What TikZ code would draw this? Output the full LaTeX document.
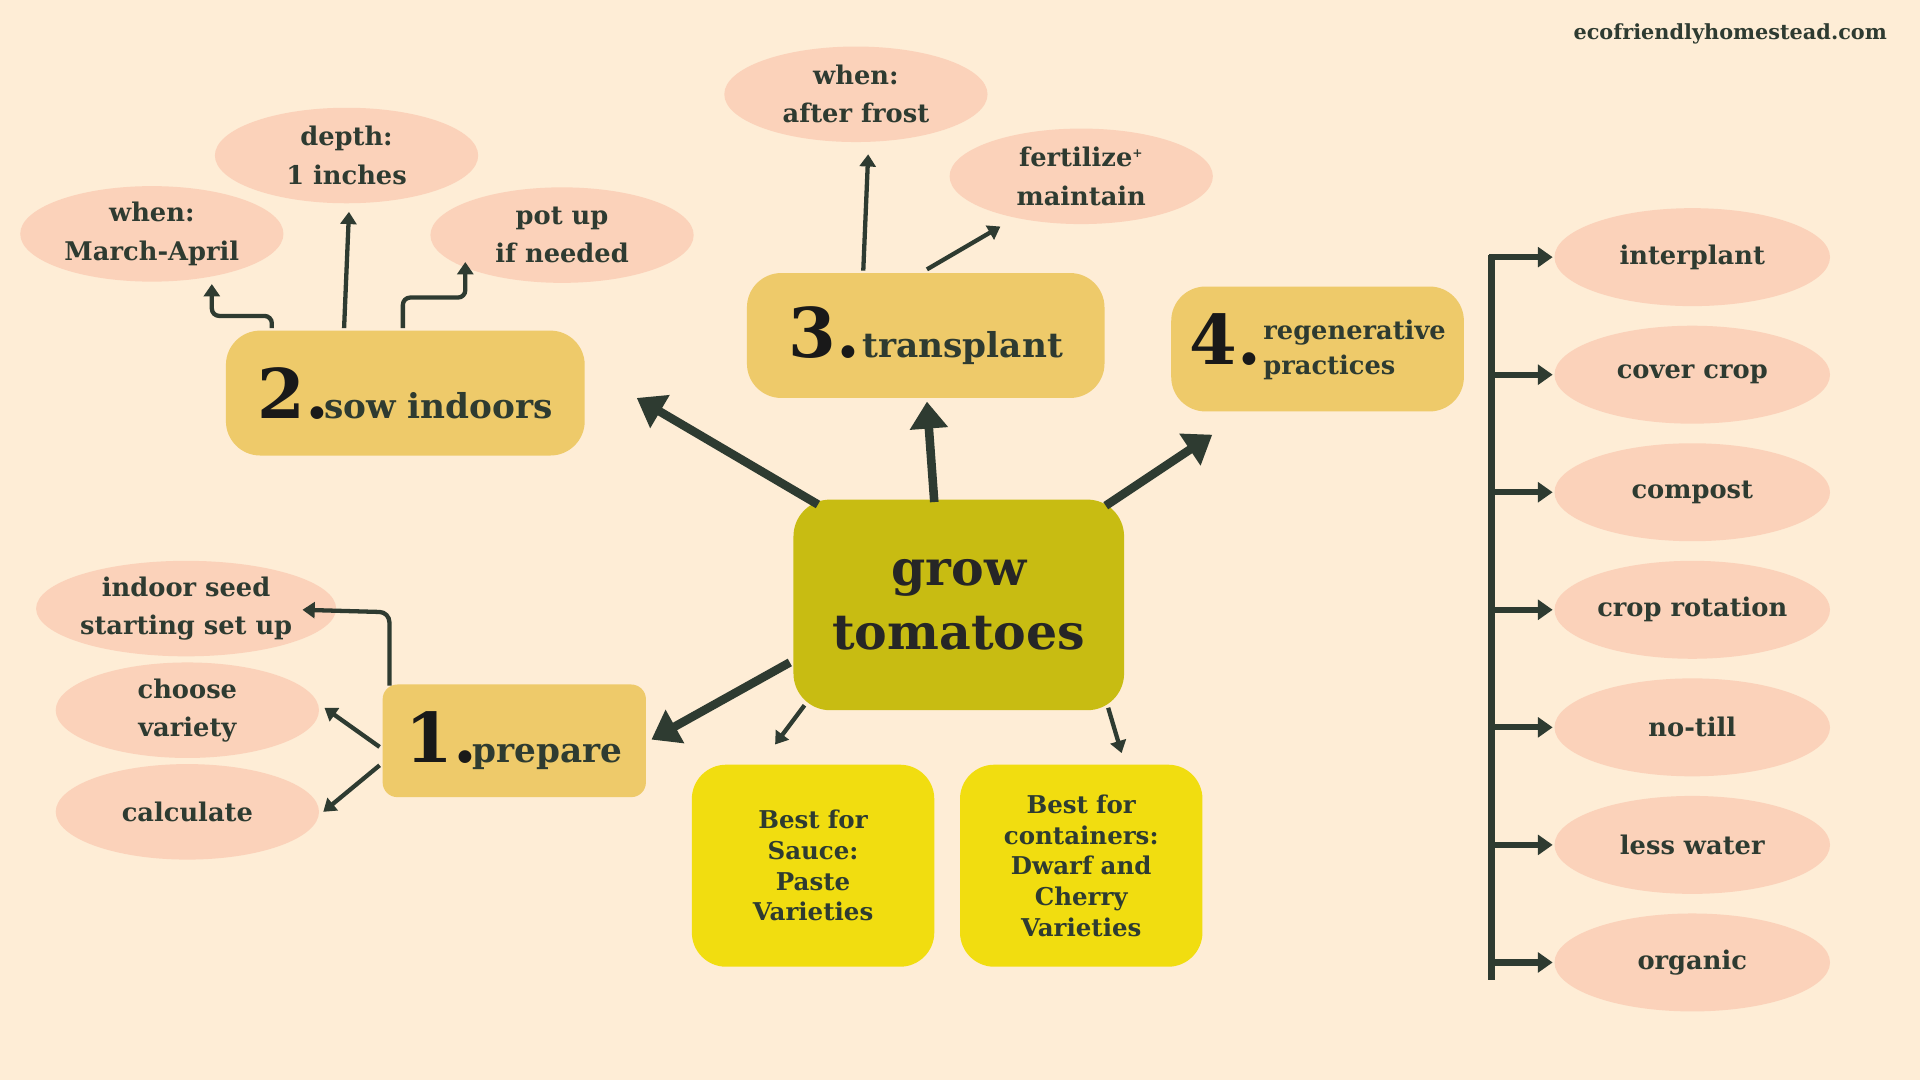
\documentclass[tikz,border=0pt]{standalone}
\usepackage{fontspec}
\setmainfont{DejaVu Serif}
\usetikzlibrary{shapes.geometric,arrows.meta}
\definecolor{bg}{HTML}{FEEDD6}
\definecolor{peach}{HTML}{FBD2BA}
\definecolor{stepc}{HTML}{EECA6A}
\definecolor{centc}{HTML}{C8BC12}
\definecolor{yel}{HTML}{F1DD10}
\definecolor{ink}{HTML}{2E3B31}
\newcommand{\fs}[1]{\fontsize{#1}{\dimexpr #1pt*6/5\relax}\selectfont}
\begin{document}
\begin{tikzpicture}[x=1pt,y=-1pt,
  oval/.style={ellipse,fill=peach,minimum width=215pt,minimum height=78pt,inner sep=0pt,align=center,text=ink,font=\bfseries\fs{21}},
  stepbox/.style={rounded corners=28pt,fill=stepc,minimum width=#1,minimum height=102pt,text=ink,font=\bfseries},
  ybox/.style={rounded corners=28pt,fill=yel,minimum width=198pt,minimum height=165pt,text=ink,align=center,font=\bfseries\fs{20},text width=180pt},
  big/.style={line width=7pt,draw=ink,-{Triangle[length=22pt,width=30pt]}},
  thin/.style={line width=3.5pt,draw=ink,-{Triangle[length=10pt,width=13pt]}},
  brk/.style={line width=5pt,draw=ink,-{Triangle[length=12pt,width=16pt]}}]
\fill[bg] (0,0) rectangle (1568,882);
\node[text=ink,font=\bfseries\fs{17}] (web) at (1413,28) {ecofriendlyhomestead.com};
% main boxes
\node[rounded corners=30pt,fill=centc,minimum width=270pt,minimum height=172pt,align=center,text=black!85,font=\bfseries\fs{40}] (c) at (783,494) {grow\\[4pt]tomatoes};
\node[stepbox=293pt] (s2) at (331,321) {\fs{56}\textcolor{black!90}{2.}\hspace{-4pt}\fs{28}sow indoors};
\node[stepbox=292pt] (s3) at (756,274) {\fs{56}\textcolor{black!90}{3.}\hspace{2pt}\fs{28}transplant};
\node[stepbox=239pt,inner sep=0pt] (s4) at (1076,285) {\fs{56}\textcolor{black!90}{4.}\hspace{2pt}\fs{21}\raisebox{6pt}{\begin{tabular}{@{}l@{}}regenerative\\[4pt]practices\end{tabular}}};
\node[rounded corners=12pt,fill=stepc,minimum width=215pt,minimum height=92pt,text=ink,font=\bfseries] (s1) at (420,605) {\fs{56}\textcolor{black!90}{1.}\hspace{-4pt}\fs{28}prepare};
\node[ybox] (b1) at (664,707) {Best for\\[1pt]Sauce:\\[1pt]Paste\\[1pt]Varieties};
\node[ybox] (b2) at (883,707) {Best for\\[1pt]containers:\\[1pt]Dwarf and\\[1pt]Cherry\\[1pt]Varieties};
% ovals
\node[oval] (e1) at (124,191) {when:\\[6pt]March-April};
\node[oval] (e2) at (283,127) {depth:\\[6pt]1 inches};
\node[oval] (e3) at (459,192) {pot up\\[6pt]if needed};
\node[oval] (e4) at (699,77) {when:\\[6pt]after frost};
\node[oval] (e5) at (883,144) {fertilize\textsuperscript{\fs{10}+}\\[6pt]maintain};
\node[oval] (e6) at (152,497) {indoor seed\\[6pt]starting set up};
\node[oval] (e7) at (153,580) {choose\\[6pt]variety};
\node[oval] (e8) at (153,663) {calculate};
\foreach \t [count=\i] in {interplant,cover crop,compost,crop rotation,no-till,less water,organic}
  \node[oval,minimum width=225pt,minimum height=80pt] (r\i) at (1382,114+96*\i) {\t};
% big arrows
\coordinate (c2) at (668,412); \coordinate (c3) at (763,410); \coordinate (c4) at (903,413); \coordinate (c1) at (645,541);
\coordinate (t2) at (520,325); \coordinate (t3) at (757,328); \coordinate (t4) at (990,355); \coordinate (t1) at (532,604);
\draw[big] (c2) -- (t2);
\draw[big] (c3) -- (t3);
\draw[big] (c4) -- (t4);
\draw[big] (c1) -- (t1);
\coordinate (cb1) at (657,576); \coordinate (cb2) at (905,578);
\coordinate (tb1) at (633,608); \coordinate (tb2) at (916,615);
\draw[thin] (cb1) -- (tb1);
\draw[thin] (cb2) -- (tb2);
% sow subs
\coordinate (a1) at (222,268); \coordinate (a1t) at (173,232);
\draw[thin,rounded corners=6pt] (a1) -- (222,258) -- (173,258) -- (a1t);
\coordinate (a2) at (281,268); \coordinate (a2t) at (285,173);
\draw[thin] (a2) -- (a2t);
\coordinate (a3) at (329,268); \coordinate (a3t) at (380,214);
\draw[thin,rounded corners=6pt] (a3) -- (329,243) -- (380,243) -- (a3t);
% transplant subs
\coordinate (p1) at (705,221); \coordinate (p1t) at (709,126);
\draw[thin] (p1) -- (p1t);
\coordinate (p2) at (757,220); \coordinate (p2t) at (817,185);
\draw[thin] (p2) -- (p2t);
% prepare subs
\coordinate (q1) at (318,560); \coordinate (q1t) at (247,498);
\draw[thin,rounded corners=8pt] (q1) -- (318,500) -- (q1t);
\coordinate (q2) at (310,610); \coordinate (q2t) at (265,578);
\draw[thin] (q2) -- (q2t);
\coordinate (q3) at (310,625); \coordinate (q3t) at (264,663);
\draw[thin] (q3) -- (q3t);
% bracket
\coordinate (bt) at (1218,208); \coordinate (bb) at (1218,800);
\draw[line width=5pt,draw=ink] (bt) -- (bb);
\foreach \i in {1,...,7} {
  \coordinate (h\i) at (1216,114+96*\i);
  \draw[brk] (h\i) -- (1268,114+96*\i);
}
\end{tikzpicture}
\end{document}
